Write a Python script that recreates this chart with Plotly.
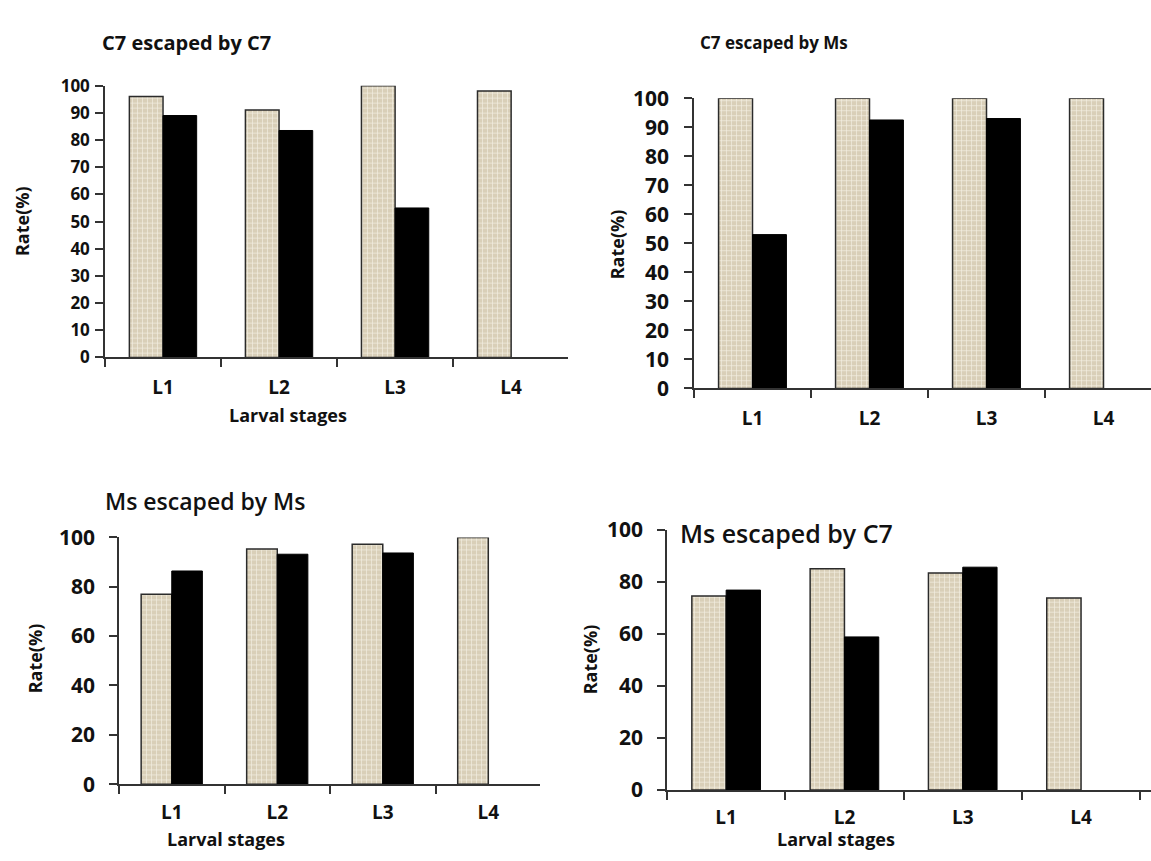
import plotly.graph_objects as go

W, H = 1151, 861

stages = ["L1", "L2", "L3", "L4"]

# Panel values (beige = first series, black = second series)
c7_by_c7_beige = [96, 91, 100, 98]
c7_by_c7_black = [89, 83.5, 55, None]
c7_by_ms_beige = [100, 100, 100, 100]
c7_by_ms_black = [53, 92.5, 93, None]
ms_by_ms_beige = [77, 95.3, 97.2, 100]
ms_by_ms_black = [86.4, 93.2, 93.7, None]
ms_by_c7_beige = [74.5, 85, 83.4, 73.8]
ms_by_c7_black = [76.8, 58.8, 85.6, None]

titles = ["C7 escaped by C7", "C7 escaped by Ms", "Ms escaped by Ms", "Ms escaped by C7"]

FONT = "Open Sans"
AX = "#333333"

def px(x):
    return x / W

def py(y):
    return 1 - y / H

fig = go.Figure()

panels = [
    dict(beige=c7_by_c7_beige, black=c7_by_c7_black, x=(105, 568), xr=(-0.5, 3.49),
         y=(73, 354), dtick=10, yfs=17, ystand=2, xstand=12),
    dict(beige=c7_by_ms_beige, black=c7_by_ms_black, x=(694, 1151), xr=(-0.5, -0.5 + 457 / 117),
         y=(86, 386), dtick=10, yfs=21, ystand=11, xstand=12),
    dict(beige=ms_by_ms_beige, black=ms_by_ms_black, x=(119, 540), xr=(-0.5, 3.49),
         y=(540, 795), dtick=20, yfs=21, ystand=10, xstand=10),
    dict(beige=ms_by_c7_beige, black=ms_by_c7_black, x=(667, 1151), xr=(-0.5, -0.5 + 484 / 118.3),
         y=(532, 801), dtick=20, yfs=21, ystand=10, xstand=9),
]

layout = {}
for i, p in enumerate(panels, start=1):
    xa = "x" if i == 1 else f"x{i}"
    ya = "y" if i == 1 else f"y{i}"
    fig.add_trace(go.Bar(
        x=stages, y=p["beige"], xaxis=xa, yaxis=ya, showlegend=False,
        marker=dict(color="#ddd3bd",
                    line=dict(color="#2b2b2b", width=1.5),
                    pattern=dict(shape="+", fgcolor="#f3eee3", bgcolor="#d9cfb8",
                                 size=5, solidity=0.25, fillmode="replace")),
    ))
    fig.add_trace(go.Bar(
        x=stages, y=p["black"], xaxis=xa, yaxis=ya, showlegend=False,
        marker=dict(color="#000000", line=dict(color="#000000", width=1)),
    ))
    xk = "xaxis" if i == 1 else f"xaxis{i}"
    yk = "yaxis" if i == 1 else f"yaxis{i}"
    layout[xk] = dict(
        domain=[px(p["x"][0]), px(p["x"][1])], range=list(p["xr"]),
        anchor=ya, type="category", tickson="boundaries",
        showline=True, linecolor=AX, linewidth=1.5,
        ticks="outside", ticklen=8, tickwidth=1.5, tickcolor=AX,
        ticklabelstandoff=p["xstand"], showgrid=False, zeroline=False,
        tickfont=dict(family=FONT, size=19, color="#111", weight="bold"),
    )
    layout[yk] = dict(
        domain=[py(p["y"][1]), py(p["y"][0])], range=[0, 100],
        anchor=xa, dtick=p["dtick"], tick0=0,
        showline=True, linecolor=AX, linewidth=1.5,
        ticks="outside", ticklen=8, tickwidth=1.5, tickcolor=AX,
        ticklabelstandoff=p["ystand"], showgrid=False, zeroline=False,
        tickfont=dict(family=FONT, size=p["yfs"], color="#111", weight="bold"),
    )

annotations = []

def ann(text, x, y, size, weight="bold", angle=0, xanchor="center"):
    annotations.append(dict(
        text=text, x=px(x), y=py(y), xref="paper", yref="paper",
        xanchor=xanchor, yanchor="middle", showarrow=False, textangle=angle,
        font=dict(family=FONT, size=size, color="#111", weight=weight),
    ))

ann(titles[0], 100, 28, 20, xanchor="left")
ann(titles[1], 698, 28, 17, xanchor="left")
ann(titles[2], 103, 502, 23, weight=600, xanchor="left")
ann(titles[3], 678, 535, 25, weight=600, xanchor="left")

for (x, y) in [(22, 213), (617, 237), (35, 665), (590, 666)]:
    ann("Rate(%)", x, y, 18, angle=-90)

for (x, y) in [(288, 413), (226, 852), (836, 852)]:
    ann("Larval stages", x, y, 18)

fig.update_layout(
    width=W, height=H,
    margin=dict(l=0, r=0, t=0, b=0),
    paper_bgcolor="white", plot_bgcolor="white",
    barmode="group", bargap=0.42, bargroupgap=0,
    annotations=annotations,
    **layout,
)

fig.write_html("out.html")
